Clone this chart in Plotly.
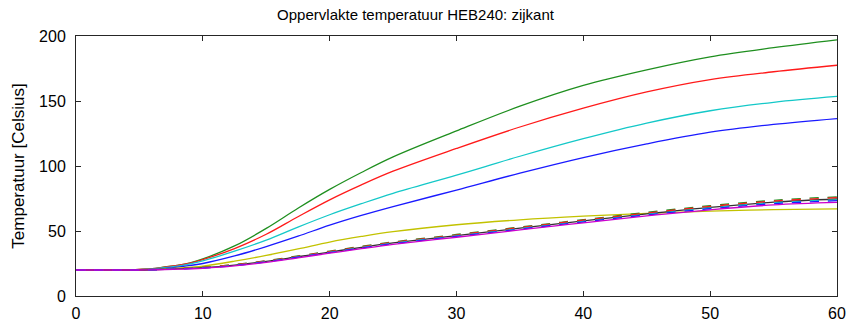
import plotly.graph_objects as go

# time axis
x = [0, 4, 5, 6, 7, 8, 9, 10, 12.5, 15, 17.5, 20, 22.5, 25, 30, 35, 40, 45, 50, 55, 60]

green = [20, 20, 20.5, 21, 22.3, 23.6, 25.5, 28.5, 38.5, 52, 67.5, 82, 95, 107, 127, 146, 162, 174, 184, 191, 197]
red = [20, 20, 20.5, 21, 22.2, 23.5, 25.3, 28, 36.5, 47.5, 61, 74, 85.5, 96, 113.5, 130, 144.5, 157, 166.5, 172.5, 177.5]
cyan = [20, 20, 20.3, 20.8, 21.8, 23, 24.7, 27, 34.5, 43, 53, 62.5, 71, 79, 93, 107.5, 121, 133, 142.5, 149, 153.5]
blue = [20, 20, 20.2, 20.5, 21.2, 22.2, 23.5, 25, 30.8, 38, 46, 54.5, 62, 68.8, 81.5, 94.5, 106.5, 117, 126, 132, 136.5]
yellow = [20, 20, 20.1, 20.3, 20.8, 21.4, 22.2, 23, 26.8, 31.2, 36.2, 41.5, 45.8, 49.5, 54.8, 58.6, 61.4, 63.6, 65.3, 66.4, 67]

b_green = [20, 20, 20, 20.2, 20.6, 21.0, 21.5, 22.1, 24.2, 27.1, 30.8, 34.5, 38.2, 41.6, 47.3, 53.0, 58.7, 64.3, 69.5, 73.6, 76.3]
b_red = [20, 20, 20.2, 20.4, 20.7, 21.1, 21.5, 22.0, 24.1, 26.9, 30.5, 34.2, 37.8, 41.2, 46.9, 52.6, 58.3, 63.8, 68.9, 73.0, 75.6]
b_black = [20, 20, 20, 20.2, 20.5, 20.9, 21.3, 21.8, 23.8, 26.6, 30.2, 33.8, 37.4, 40.8, 46.5, 52.2, 57.8, 63.2, 68.2, 72.2, 74.6]
b_cyan = [20, 20, 20.1, 20.2, 20.5, 20.8, 21.2, 21.7, 23.6, 26.4, 30.0, 33.6, 37.2, 40.6, 46.2, 51.8, 57.4, 62.8, 67.7, 71.7, 74.0]
b_blue = [20, 20, 20, 20.1, 20.4, 20.7, 21.1, 21.5, 23.4, 26.2, 29.8, 33.3, 36.9, 40.2, 45.8, 51.4, 56.9, 62.3, 67.1, 71.0, 73.3]
b_magenta = [20, 20, 20, 20.1, 20.3, 20.6, 20.9, 21.3, 23.1, 25.9, 29.4, 32.9, 36.4, 39.7, 45.2, 50.8, 56.3, 61.6, 66.3, 70.1, 72.0]

x_ticks = [0, 10, 20, 30, 40, 50, 60]
y_ticks = [0, 50, 100, 150, 200]

series = [
    (green, "#1f8f1f", "solid"),
    (red, "#ff1a1a", "solid"),
    (cyan, "#14c8c8", "solid"),
    (blue, "#1a1aff", "solid"),
    (yellow, "#c2c200", "solid"),
    (b_black, "#333333", "solid"),
    (b_green, "#1f8f1f", "dash"),
    (b_red, "#ff1a1a", "dash"),
    (b_cyan, "#14c8c8", "dash"),
    (b_blue, "#1a1aff", "dash"),
    (b_magenta, "#cc00cc", "solid"),
]

fig = go.Figure()
for ys, col, dash in series:
    fig.add_trace(go.Scatter(
        x=x, y=ys, mode="lines",
        line=dict(color=col, width=1.3, dash=dash, shape="spline", smoothing=1.0),
        showlegend=False, hoverinfo="skip",
    ))

FONT = "Liberation Sans, Arial, sans-serif"
axis_common = dict(
    showgrid=False, zeroline=False, showline=True, linecolor="#262626", linewidth=1,
    mirror="ticks", ticks="inside", ticklen=5, tickcolor="#262626", tickwidth=1,
    tickfont=dict(family=FONT, size=16, color="#000000"), automargin=False,
)

fig.update_layout(
    width=848, height=324,
    margin=dict(l=76, r=11, t=36, b=28),
    paper_bgcolor="white", plot_bgcolor="white",
    title=dict(text="Oppervlakte temperatuur HEB240: zijkant",
               x=0.49, xref="container", xanchor="center",
               y=0.953, yref="container", yanchor="middle",
               font=dict(family=FONT, size=15, color="#000000")),
    xaxis=dict(range=[0, 60], tickvals=x_ticks, ticklabelstandoff=3, **axis_common),
    yaxis=dict(range=[0, 200], tickvals=y_ticks, ticklabelstandoff=6,
               title=dict(text="Temperatuur [Celsius]", standoff=10,
                          font=dict(family=FONT, size=17, color="#000000")),
               **axis_common),
)

fig.write_html("out.html")
